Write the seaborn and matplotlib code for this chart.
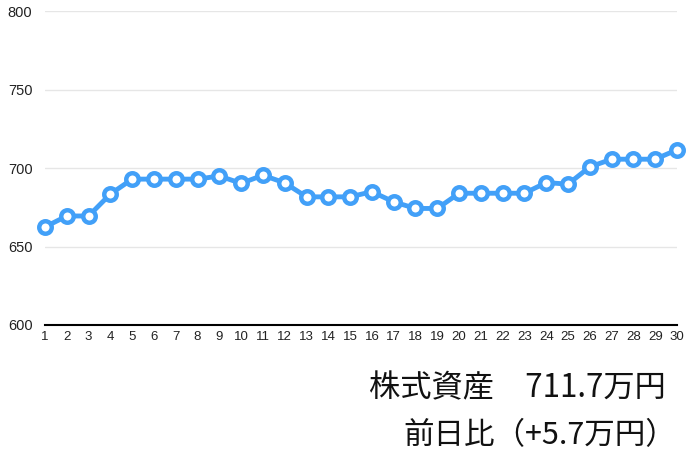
import matplotlib
matplotlib.use("Agg")
import matplotlib.pyplot as plt
import seaborn as sns
import pandas as pd

days = list(range(1, 31))
assets = [662.5, 669.5, 669.5, 683.5, 693, 693, 693, 693, 695, 690.3,
          695.5, 690.6, 681.7, 681.7, 681.7, 685, 678.5, 674.3, 674.3, 684,
          684, 684, 684, 690.8, 689.8, 700.8, 705.7, 705.7, 705.7, 711.7]
y_ticks = [600, 650, 700, 750, 800]
title_line1 = "株式資産　711.7万円"
title_line2 = "前日比（+5.7万円）"

sns.set_theme(style="white")
plt.rcParams['font.family'] = ['Noto Sans CJK JP', 'DejaVu Sans']

df = pd.DataFrame({"day": days, "value": assets})

fig = plt.figure(figsize=(6.95, 4.59), dpi=100)
ax = fig.add_axes([45 / 695, 1 - 325 / 459, 632 / 695, 313.7 / 459])
color = "#42A0F8"
sns.lineplot(data=df, x="day", y="value", ax=ax, color=color, linewidth=3.5,
             marker="o", markersize=9.0, markerfacecolor="white",
             markeredgecolor=color, markeredgewidth=3.2, zorder=3, clip_on=False)

ax.set_xlim(1, 30)
ax.set_ylim(600, 800)
ax.set_yticks(y_ticks)
ax.set_xticks(days)
tick_font = ['Liberation Sans', 'DejaVu Sans']
ax.set_xticklabels([str(d) for d in days], fontsize=9.5, color="#222222", family=tick_font)
ax.set_yticklabels([str(t) for t in y_ticks], fontsize=10.5, color="#222222", family=tick_font)
ax.tick_params(axis="y", length=0, pad=9)
ax.tick_params(axis="x", length=0, pad=4)
ax.yaxis.grid(True, color="#e6e6e6", linewidth=1)
ax.set_axisbelow(True)
for s in ["top", "right", "left"]:
    ax.spines[s].set_visible(False)
ax.spines["bottom"].set_color("black")
ax.spines["bottom"].set_linewidth(1.5)
ax.spines["bottom"].set_zorder(1)
ax.set_xlabel("")
ax.set_ylabel("")

fig.text(666 / 695, 1 - 388 / 459, title_line1, ha="right", va="center",
         fontsize=22.5, color="#111111")
fig.text(676 / 695, 1 - 436 / 459, title_line2, ha="right", va="center",
         fontsize=22, color="#111111")

fig.savefig("out.png", dpi=100)
